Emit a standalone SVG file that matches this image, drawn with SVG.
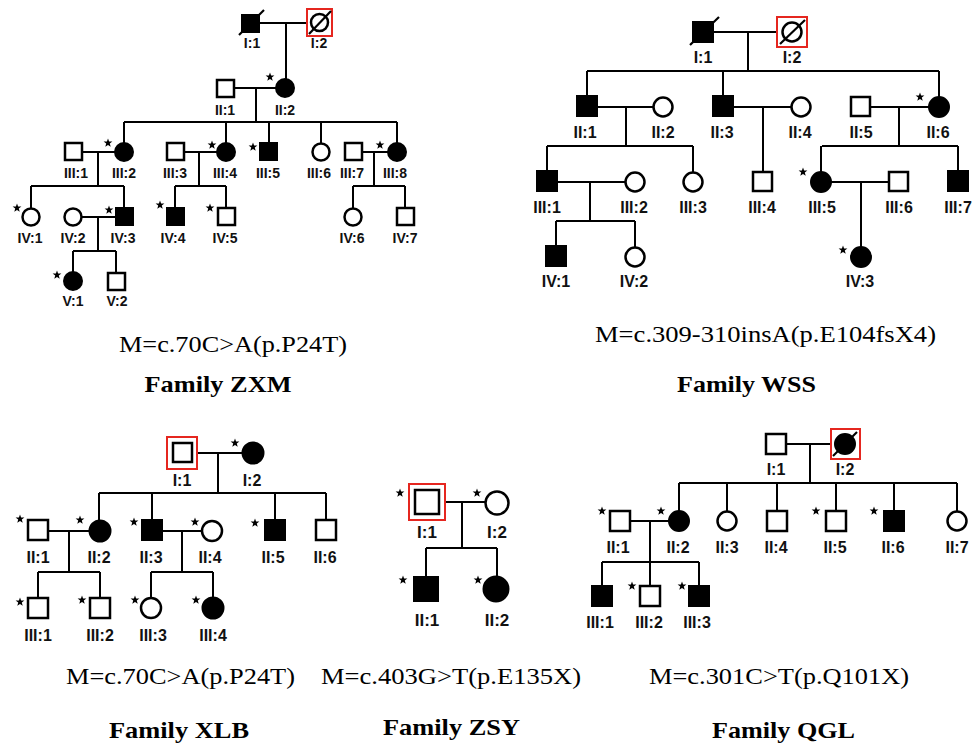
<svg xmlns="http://www.w3.org/2000/svg" xmlns:xlink="http://www.w3.org/1999/xlink" width="974" height="744" viewBox="0 0 974 744">
<style>
.ln{stroke:#000;stroke-width:2;fill:none}
.o{fill:#fff;stroke:#000;stroke-width:2.5}
.f{fill:#000;stroke:#000;stroke-width:2}
.rb{fill:none;stroke:#e5261f;stroke-width:2}
.sl{stroke:#000;stroke-width:2.2}
.l14{font-family:"Liberation Sans",Arial,sans-serif;font-weight:bold;font-size:14px;text-anchor:middle;fill:#111}
.l16{font-family:"Liberation Sans",Arial,sans-serif;font-weight:bold;font-size:16px;text-anchor:middle;fill:#111}
.l17{font-family:"Liberation Sans",Arial,sans-serif;font-weight:bold;font-size:17px;text-anchor:middle;fill:#111}
.mt{font-family:"Liberation Serif","Times New Roman",serif;font-size:24px;text-anchor:middle;fill:#000}
.ft{font-family:"Liberation Serif","Times New Roman",serif;font-size:24px;font-weight:bold;text-anchor:middle;fill:#000}
</style>
<defs>
<path id="st" d="M0,-4.6 L1.1,-1.5 L4.4,-1.4 L1.8,0.6 L2.7,3.7 L0,1.9 L-2.7,3.7 L-1.8,0.6 L-4.4,-1.4 L-1.1,-1.5 Z" fill="#000"/>
</defs>
<rect width="974" height="744" fill="#fff"/>

<!-- ===== Connectors ===== -->
<g id="connectors" class="ln">
<!-- ZXM -->
<path d="M259,23H307 M286,23V79 M234,88H276 M256,88V122 M124,122H397 M124,122V143 M226,122V143 M269,122V143 M321,122V143 M397,122V143"/>
<path d="M82,152H115 M98,152V186 M31,186H124 M31,186V208 M124,186V208"/>
<path d="M183,152H217 M199,152V186 M175,186H226 M175,186V208 M226,186V208"/>
<path d="M362,152H388 M374,152V186 M353,186H405 M353,186V208 M405,186V208"/>
<path d="M82,217H116 M98,217V251 M73,251H116 M73,251V272 M116,251V273"/>
<!-- WSS -->
<path d="M713,32H777 M748,32V71 M587,71H939 M587,71V96 M723,71V96 M939,71V97"/>
<path d="M597,107H653 M626,107V146 M547,146H693 M547,146V171 M693,146V172"/>
<path d="M733,107H791 M763,107V171"/>
<path d="M871,107H929 M899,107V146 M822,146H958 M821,146V172 M958,146V171"/>
<path d="M557,182H625 M590,182V221 M556,221H635 M556,221V246 M635,221V247"/>
<path d="M831,182H889 M861,182V247"/>
<!-- XLB -->
<path d="M197,453H243 M218,453V493 M99,493H326 M99,493V520 M152,493V520 M275,493V520 M326,493V520"/>
<path d="M48,531H89 M69,531V572 M38,572H100 M38,572V598 M100,572V598"/>
<path d="M162,531H201 M182,531V572 M151,572H213 M151,572V598 M213,572V598"/>
<!-- ZSY -->
<path d="M445,502H485 M462,502V548 M426,548H497 M426,548V577 M497,548V577"/>
<!-- QGL -->
<path d="M786,444H831 M810,444V483 M679,483H957 M679,483V511 M727,483V511 M777,483V511 M836,483V511 M894,483V511 M957,483V511"/>
<path d="M630,521H669 M650,521V562 M602,562H699 M602,562V586 M650,562V586 M699,562V586"/>
</g>

<!-- ===== Family ZXM ===== -->
<g id="zxm-I1"><rect class="f" x="242" y="15" width="17" height="17"/><line class="sl" x1="239" y1="35" x2="264" y2="10"/><text class="l14" x="252" y="48">I:1</text></g>
<g id="zxm-I2"><rect class="rb" x="307" y="9" width="25" height="27"/><circle class="o" cx="319.5" cy="22.5" r="8.5"/><line class="sl" x1="309" y1="34" x2="331" y2="11"/><text class="l14" x="319" y="48">I:2</text></g>
<g id="zxm-II1"><rect class="o" x="217" y="80" width="17" height="17"/><text class="l14" x="225" y="115">II:1</text></g>
<g id="zxm-II2"><circle class="f" cx="285" cy="88" r="9"/><use href="#st" x="270" y="77"/><text class="l14" x="285" y="115">II:2</text></g>
<g id="zxm-III1"><rect class="o" x="65" y="143" width="17" height="17"/><text class="l14" x="76" y="178">III:1</text></g>
<g id="zxm-III2"><circle class="f" cx="124" cy="152" r="9"/><use href="#st" x="108" y="143"/><text class="l14" x="124" y="178">III:2</text></g>
<g id="zxm-III3"><rect class="o" x="167" y="143" width="17" height="17"/><text class="l14" x="175" y="178">III:3</text></g>
<g id="zxm-III4"><circle class="f" cx="226" cy="152" r="9"/><use href="#st" x="212" y="145"/><text class="l14" x="225" y="178">III:4</text></g>
<g id="zxm-III5"><rect class="f" x="260" y="143" width="17" height="17"/><use href="#st" x="253" y="147"/><text class="l14" x="268" y="178">III:5</text></g>
<g id="zxm-III6"><circle class="o" cx="321" cy="152" r="8.5"/><text class="l14" x="319" y="178">III:6</text></g>
<g id="zxm-III7"><rect class="o" x="345" y="143" width="17" height="17"/><text class="l14" x="352" y="178">III:7</text></g>
<g id="zxm-III8"><circle class="f" cx="397" cy="152" r="9"/><use href="#st" x="380" y="145"/><text class="l14" x="395" y="178">III:8</text></g>
<g id="zxm-IV1"><circle class="o" cx="31" cy="217" r="8.5"/><use href="#st" x="17" y="208"/><text class="l14" x="30" y="243">IV:1</text></g>
<g id="zxm-IV2"><circle class="o" cx="73" cy="217" r="8.5"/><text class="l14" x="73" y="243">IV:2</text></g>
<g id="zxm-IV3"><rect class="f" x="116" y="208" width="17" height="17"/><use href="#st" x="109" y="210"/><text class="l14" x="123" y="243">IV:3</text></g>
<g id="zxm-IV4"><rect class="f" x="167" y="208" width="17" height="17"/><use href="#st" x="160" y="205"/><text class="l14" x="173" y="243">IV:4</text></g>
<g id="zxm-IV5"><rect class="o" x="218" y="208" width="17" height="17"/><use href="#st" x="210" y="208"/><text class="l14" x="225" y="243">IV:5</text></g>
<g id="zxm-IV6"><circle class="o" cx="353" cy="217" r="8.5"/><text class="l14" x="352" y="243">IV:6</text></g>
<g id="zxm-IV7"><rect class="o" x="397" y="208" width="17" height="17"/><text class="l14" x="405" y="243">IV:7</text></g>
<g id="zxm-V1"><circle class="f" cx="73" cy="281" r="9"/><use href="#st" x="57" y="275"/><text class="l14" x="73" y="306">V:1</text></g>
<g id="zxm-V2"><rect class="o" x="108" y="273" width="17" height="17"/><text class="l14" x="117" y="306">V:2</text></g>
<text class="mt" x="233" y="352" textLength="228" lengthAdjust="spacingAndGlyphs">M=c.70C&gt;A(p.P24T)</text>
<text class="ft" x="218" y="392" textLength="147" lengthAdjust="spacingAndGlyphs">Family ZXM</text>

<!-- ===== Family WSS ===== -->
<g id="wss-I1"><rect class="f" x="693" y="22" width="20" height="20"/><line class="sl" x1="690" y1="45" x2="719" y2="17"/><text class="l16" x="703" y="63">I:1</text></g>
<g id="wss-I2"><rect class="rb" x="777" y="17" width="30" height="30"/><circle class="o" cx="792" cy="32" r="9.5"/><line class="sl" x1="780" y1="44" x2="805" y2="20"/><text class="l16" x="792" y="63">I:2</text></g>
<g id="wss-II1"><rect class="f" x="577" y="96" width="20" height="20"/><text class="l16" x="585" y="138">II:1</text></g>
<g id="wss-II2"><circle class="o" cx="663" cy="107" r="9.5"/><text class="l16" x="663" y="138">II:2</text></g>
<g id="wss-II3"><rect class="f" x="713" y="96" width="20" height="20"/><text class="l16" x="722" y="138">II:3</text></g>
<g id="wss-II4"><circle class="o" cx="801" cy="107" r="9.5"/><text class="l16" x="800" y="138">II:4</text></g>
<g id="wss-II5"><rect class="o" x="851" y="97" width="19" height="19"/><text class="l16" x="861" y="138">II:5</text></g>
<g id="wss-II6"><circle class="f" cx="939" cy="107" r="10"/><use href="#st" x="920" y="97"/><text class="l16" x="938" y="138">II:6</text></g>
<g id="wss-III1"><rect class="f" x="537" y="171" width="20" height="20"/><text class="l16" x="547" y="213">III:1</text></g>
<g id="wss-III2"><circle class="o" cx="635" cy="182" r="9.5"/><text class="l16" x="634" y="213">III:2</text></g>
<g id="wss-III3"><circle class="o" cx="693" cy="182" r="9.5"/><text class="l16" x="693" y="213">III:3</text></g>
<g id="wss-III4"><rect class="o" x="753" y="172" width="19" height="19"/><text class="l16" x="762" y="213">III:4</text></g>
<g id="wss-III5"><circle class="f" cx="821" cy="182" r="10"/><use href="#st" x="803" y="172"/><text class="l16" x="822" y="213">III:5</text></g>
<g id="wss-III6"><rect class="o" x="889" y="172" width="19" height="19"/><text class="l16" x="899" y="213">III:6</text></g>
<g id="wss-III7"><rect class="f" x="948" y="171" width="20" height="20"/><text class="l16" x="958" y="213">III:7</text></g>
<g id="wss-IV1"><rect class="f" x="546" y="246" width="20" height="20"/><text class="l16" x="556" y="287">IV:1</text></g>
<g id="wss-IV2"><circle class="o" cx="635" cy="257" r="9.5"/><text class="l16" x="634" y="287">IV:2</text></g>
<g id="wss-IV3"><circle class="f" cx="861" cy="257" r="10"/><use href="#st" x="843" y="250"/><text class="l16" x="860" y="287">IV:3</text></g>
<text class="mt" x="765.5" y="342" textLength="341" lengthAdjust="spacingAndGlyphs">M=c.309-310insA(p.E104fsX4)</text>
<text class="ft" x="746.5" y="392" textLength="139" lengthAdjust="spacingAndGlyphs">Family WSS</text>

<!-- ===== Family XLB ===== -->
<g id="xlb-I1"><rect class="rb" x="167" y="437" width="30" height="32"/><rect class="o" x="173" y="443" width="19" height="19"/><text class="l16" x="182" y="486">I:1</text></g>
<g id="xlb-I2"><circle class="f" cx="253" cy="453" r="10.5"/><use href="#st" x="235" y="443"/><text class="l16" x="252" y="486">I:2</text></g>
<g id="xlb-II1"><rect class="o" x="28" y="520" width="20" height="20"/><use href="#st" x="20" y="519"/><text class="l16" x="38" y="563">II:1</text></g>
<g id="xlb-II2"><circle class="f" cx="100" cy="531" r="10.5"/><use href="#st" x="80" y="520"/><text class="l16" x="99" y="563">II:2</text></g>
<g id="xlb-II3"><rect class="f" x="142" y="520" width="20" height="20"/><use href="#st" x="134" y="522"/><text class="l16" x="151" y="563">II:3</text></g>
<g id="xlb-II4"><circle class="o" cx="212" cy="531" r="10"/><use href="#st" x="195" y="522"/><text class="l16" x="210" y="563">II:4</text></g>
<g id="xlb-II5"><rect class="f" x="265" y="520" width="20" height="20"/><use href="#st" x="255" y="523"/><text class="l16" x="273" y="563">II:5</text></g>
<g id="xlb-II6"><rect class="o" x="316" y="520" width="20" height="20"/><text class="l16" x="325" y="563">II:6</text></g>
<g id="xlb-III1"><rect class="o" x="28" y="598" width="20" height="20"/><use href="#st" x="20" y="602"/><text class="l16" x="38" y="641">III:1</text></g>
<g id="xlb-III2"><rect class="o" x="90" y="598" width="20" height="20"/><use href="#st" x="82" y="600"/><text class="l16" x="100" y="641">III:2</text></g>
<g id="xlb-III3"><circle class="o" cx="151" cy="608" r="10"/><use href="#st" x="135" y="600"/><text class="l16" x="153" y="641">III:3</text></g>
<g id="xlb-III4"><circle class="f" cx="213" cy="608" r="10.5"/><use href="#st" x="196" y="600"/><text class="l16" x="213" y="641">III:4</text></g>
<text class="mt" x="180.5" y="684" textLength="229" lengthAdjust="spacingAndGlyphs">M=c.70C&gt;A(p.P24T)</text>
<text class="ft" x="179" y="738" textLength="140" lengthAdjust="spacingAndGlyphs">Family XLB</text>

<!-- ===== Family ZSY ===== -->
<g id="zsy-I1"><rect class="rb" x="409" y="484" width="36" height="36"/><rect class="o" x="415" y="490" width="24" height="24"/><use href="#st" x="400" y="493"/><text class="l17" x="427" y="538">I:1</text></g>
<g id="zsy-I2"><circle class="o" cx="497" cy="503" r="11.5"/><use href="#st" x="477" y="493"/><text class="l17" x="497" y="538">I:2</text></g>
<g id="zsy-II1"><rect class="f" x="414" y="577" width="24" height="24"/><use href="#st" x="403" y="580"/><text class="l17" x="427" y="626">II:1</text></g>
<g id="zsy-II2"><circle class="f" cx="496" cy="589" r="12.5"/><use href="#st" x="478" y="580"/><text class="l17" x="497" y="626">II:2</text></g>
<text class="mt" x="451" y="684" textLength="260" lengthAdjust="spacingAndGlyphs">M=c.403G&gt;T(p.E135X)</text>
<text class="ft" x="451.5" y="735" textLength="137" lengthAdjust="spacingAndGlyphs">Family ZSY</text>

<!-- ===== Family QGL ===== -->
<g id="qgl-I1"><rect class="o" x="766" y="434" width="20" height="20"/><text class="l16" x="776" y="475">I:1</text></g>
<g id="qgl-I2"><rect class="rb" x="831" y="429" width="29" height="30"/><circle class="f" cx="845" cy="444" r="10"/><line class="sl" x1="833" y1="456" x2="857" y2="432"/><text class="l16" x="845" y="475">I:2</text></g>
<g id="qgl-II1"><rect class="o" x="610" y="511" width="20" height="20"/><use href="#st" x="602" y="511"/><text class="l16" x="618" y="553">II:1</text></g>
<g id="qgl-II2"><circle class="f" cx="679" cy="521" r="10"/><use href="#st" x="661" y="511"/><text class="l16" x="678" y="553">II:2</text></g>
<g id="qgl-II3"><circle class="o" cx="727" cy="521" r="9.5"/><text class="l16" x="727" y="553">II:3</text></g>
<g id="qgl-II4"><rect class="o" x="767" y="511" width="20" height="20"/><text class="l16" x="776" y="553">II:4</text></g>
<g id="qgl-II5"><rect class="o" x="826" y="511" width="20" height="20"/><use href="#st" x="816" y="511"/><text class="l16" x="835" y="553">II:5</text></g>
<g id="qgl-II6"><rect class="f" x="884" y="511" width="20" height="20"/><use href="#st" x="874" y="511"/><text class="l16" x="893" y="553">II:6</text></g>
<g id="qgl-II7"><circle class="o" cx="957" cy="521" r="9.5"/><text class="l16" x="957" y="553">II:7</text></g>
<g id="qgl-III1"><rect class="f" x="592" y="586" width="20" height="20"/><text class="l16" x="600" y="628">III:1</text></g>
<g id="qgl-III2"><rect class="o" x="640" y="586" width="20" height="20"/><use href="#st" x="632" y="586"/><text class="l16" x="649" y="628">III:2</text></g>
<g id="qgl-III3"><rect class="f" x="689" y="586" width="20" height="20"/><use href="#st" x="682" y="586"/><text class="l16" x="697" y="628">III:3</text></g>
<text class="mt" x="779" y="684" textLength="260" lengthAdjust="spacingAndGlyphs">M=c.301C&gt;T(p.Q101X)</text>
<text class="ft" x="783.5" y="738" textLength="143" lengthAdjust="spacingAndGlyphs">Family QGL</text>
</svg>
